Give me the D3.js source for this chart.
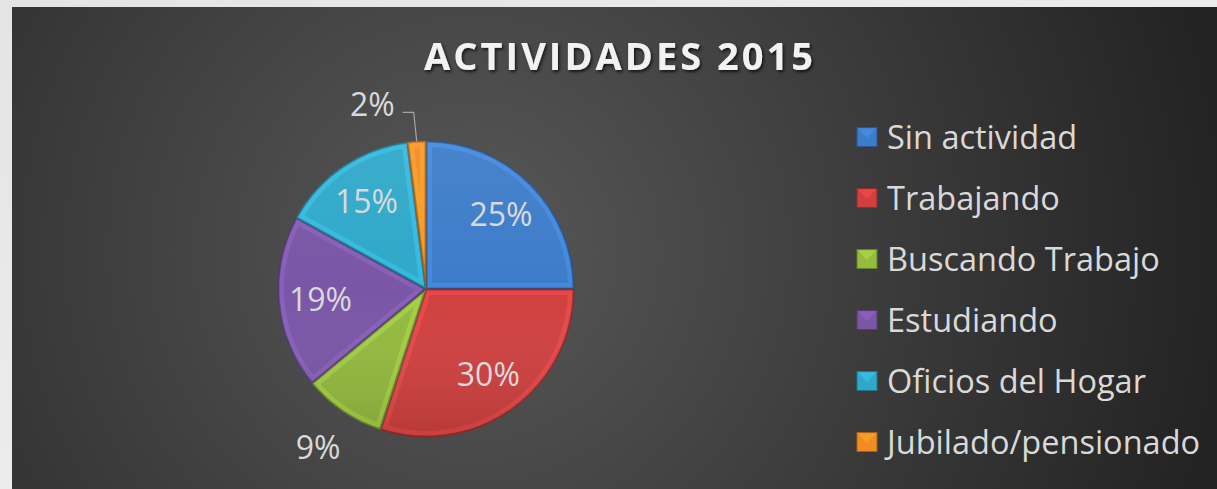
<!DOCTYPE html>
<html>
<head>
<meta charset="utf-8">
<script src="https://cdn.jsdelivr.net/npm/d3@7"></script>
<style>
  html, body { margin: 0; padding: 0; background: #ececec; }
  svg { display: block; }
</style>
</head>
<body>
<script>
const categories = ["Sin actividad", "Trabajando", "Buscando Trabajo", "Estudiando", "Oficios del Hogar", "Jubilado/pensionado"];
const values = [25, 30, 9, 19, 15, 2];
const colors = ["#3d7cc9", "#d04040", "#94ba3e", "#7a56a6", "#2fa8c9", "#f08c22"];
const title = "ACTIVIDADES 2015";

const width = 1217;
const height = 489;
const cx = 426, cy = 289, radius = 148;

const svg = d3.select("body").append("svg")
  .attr("width", width)
  .attr("height", height);

const defs = svg.append("defs");

// page backdrop
const page = defs.append("linearGradient").attr("id", "page")
  .attr("x1", 0).attr("y1", 0).attr("x2", 1).attr("y2", 1);
page.append("stop").attr("offset", "0%").attr("stop-color", "#e4e4e4");
page.append("stop").attr("offset", "100%").attr("stop-color", "#f4f4f4");
svg.append("rect").attr("width", width).attr("height", height).attr("fill", "url(#page)");

// chart area background
const bg = defs.append("radialGradient").attr("id", "bg")
  .attr("gradientUnits", "userSpaceOnUse")
  .attr("cx", 470).attr("cy", 250).attr("r", 760);
bg.append("stop").attr("offset", "0%").attr("stop-color", "#585858");
bg.append("stop").attr("offset", "100%").attr("stop-color", "#232323");
svg.append("rect")
  .attr("x", 12).attr("y", 7)
  .attr("width", width - 12).attr("height", height - 7)
  .attr("fill", "url(#bg)");

// title shadow
const shadow = defs.append("filter").attr("id", "shadow")
  .attr("x", "-10%").attr("y", "-30%").attr("width", "120%").attr("height", "160%");
shadow.append("feDropShadow").attr("dx", 1.5).attr("dy", 2).attr("stdDeviation", 1.5)
  .attr("flood-color", "#000").attr("flood-opacity", 0.7);

svg.append("text")
  .attr("x", 620).attr("y", 70)
  .attr("text-anchor", "middle")
  .attr("font-family", "'Open Sans', sans-serif")
  .attr("font-weight", "bold")
  .attr("font-size", 38)
  .attr("letter-spacing", 3)
  .attr("fill", "#f2f2f2")
  .attr("filter", "url(#shadow)")
  .text(title);

// pie
const data = categories.map((c, i) => ({ name: c, value: values[i], color: colors[i] }));
const total = d3.sum(values);

const pie = d3.pie().value(d => d.value).sort(null);
const arcs = pie(data);

const arc = d3.arc().innerRadius(0).outerRadius(radius);
const labelArc = d3.arc().innerRadius(106).outerRadius(106);
const outerArc = d3.arc().innerRadius(radius).outerRadius(radius);

const g = svg.append("g").attr("transform", `translate(${cx},${cy})`);

arcs.forEach((a, i) => {
  const c = d3.color(a.data.color);
  defs.append("clipPath").attr("id", "clip" + i)
    .append("path").attr("d", arc(a));

  const slice = g.append("g");
  slice.append("path")
    .attr("d", arc(a))
    .attr("fill", a.data.color);
  // bevel band
  slice.append("path")
    .attr("d", arc(a))
    .attr("fill", "none")
    .attr("stroke", c.brighter(0.5))
    .attr("stroke-width", 12)
    .attr("stroke-opacity", 0.55)
    .attr("clip-path", `url(#clip${i})`);
  slice.append("path")
    .attr("d", arc(a))
    .attr("fill", "none")
    .attr("stroke", c.darker(0.6))
    .attr("stroke-width", 3)
    .attr("clip-path", `url(#clip${i})`);
  slice.append("path")
    .attr("d", arc(a))
    .attr("fill", "none")
    .attr("stroke", c.darker(1.5))
    .attr("stroke-width", 0.8);
});

// shading over the pie: lighter top, darker bottom
const shade = defs.append("linearGradient").attr("id", "shade")
  .attr("x1", 0).attr("y1", 0).attr("x2", 0).attr("y2", 1);
shade.append("stop").attr("offset", "0%").attr("stop-color", "#fff").attr("stop-opacity", 0.06);
shade.append("stop").attr("offset", "50%").attr("stop-color", "#fff").attr("stop-opacity", 0);
shade.append("stop").attr("offset", "100%").attr("stop-color", "#000").attr("stop-opacity", 0.12);
g.append("circle").attr("r", radius).attr("fill", "url(#shade)");

const fmt = d => Math.round(d.value / total * 100) + "%";
const labelFont = "'Open Sans', sans-serif";
const labelSize = 32;

arcs.forEach(a => {
  const pct = a.data.value / total;
  if (pct >= 0.1) {
    const [x, y] = labelArc.centroid(a);
    g.append("text")
      .attr("x", x).attr("y", y)
      .attr("dy", "0.36em")
      .attr("text-anchor", "middle")
      .attr("font-family", labelFont)
      .attr("font-size", labelSize)
      .attr("fill", "#d9d9d9")
      .text(fmt(a.data));
  } else if (pct >= 0.05) {
    const mid = (a.startAngle + a.endAngle) / 2;
    const r = 192;
    g.append("text")
      .attr("x", Math.sin(mid) * r).attr("y", -Math.cos(mid) * r)
      .attr("dy", "0.36em")
      .attr("text-anchor", "middle")
      .attr("font-family", labelFont)
      .attr("font-size", labelSize)
      .attr("fill", "#d9d9d9")
      .text(fmt(a.data));
  } else {
    // leader line to small slice
    const [px, py] = outerArc.centroid(a);
    const ey = py - 29;
    g.append("path")
      .attr("d", `M${px},${py}L${px - 3},${ey}L${px - 14},${ey}`)
      .attr("fill", "none")
      .attr("stroke", "#a6a6a6")
      .attr("stroke-width", 1.2);
    g.append("text")
      .attr("x", px - 22).attr("y", ey - 8)
      .attr("dy", "0.36em")
      .attr("text-anchor", "end")
      .attr("font-family", labelFont)
      .attr("font-size", labelSize)
      .attr("fill", "#d9d9d9")
      .text(fmt(a.data));
  }
});

// legend
const legend = svg.append("g").attr("transform", "translate(857,137)");
const rows = legend.selectAll("g").data(data).enter().append("g")
  .attr("transform", (d, i) => `translate(0,${i * 61})`);

rows.append("rect")
  .attr("x", 0).attr("y", -9.5)
  .attr("width", 20).attr("height", 19)
  .attr("fill", d => d.color)
  .attr("stroke", d => d3.color(d.color).darker(1))
  .attr("stroke-width", 1);
rows.append("path")
  .attr("d", "M1,-8.5L19,-8.5L10,1Z")
  .attr("fill", d => d3.color(d.color).brighter(0.5))
  .attr("opacity", 0.6);

rows.append("text")
  .attr("x", 30).attr("y", 0)
  .attr("dy", "0.36em")
  .attr("font-family", labelFont)
  .attr("font-size", 32.5)
  .attr("fill", "#d9d9d9")
  .text(d => d.name);
</script>
</body>
</html>
